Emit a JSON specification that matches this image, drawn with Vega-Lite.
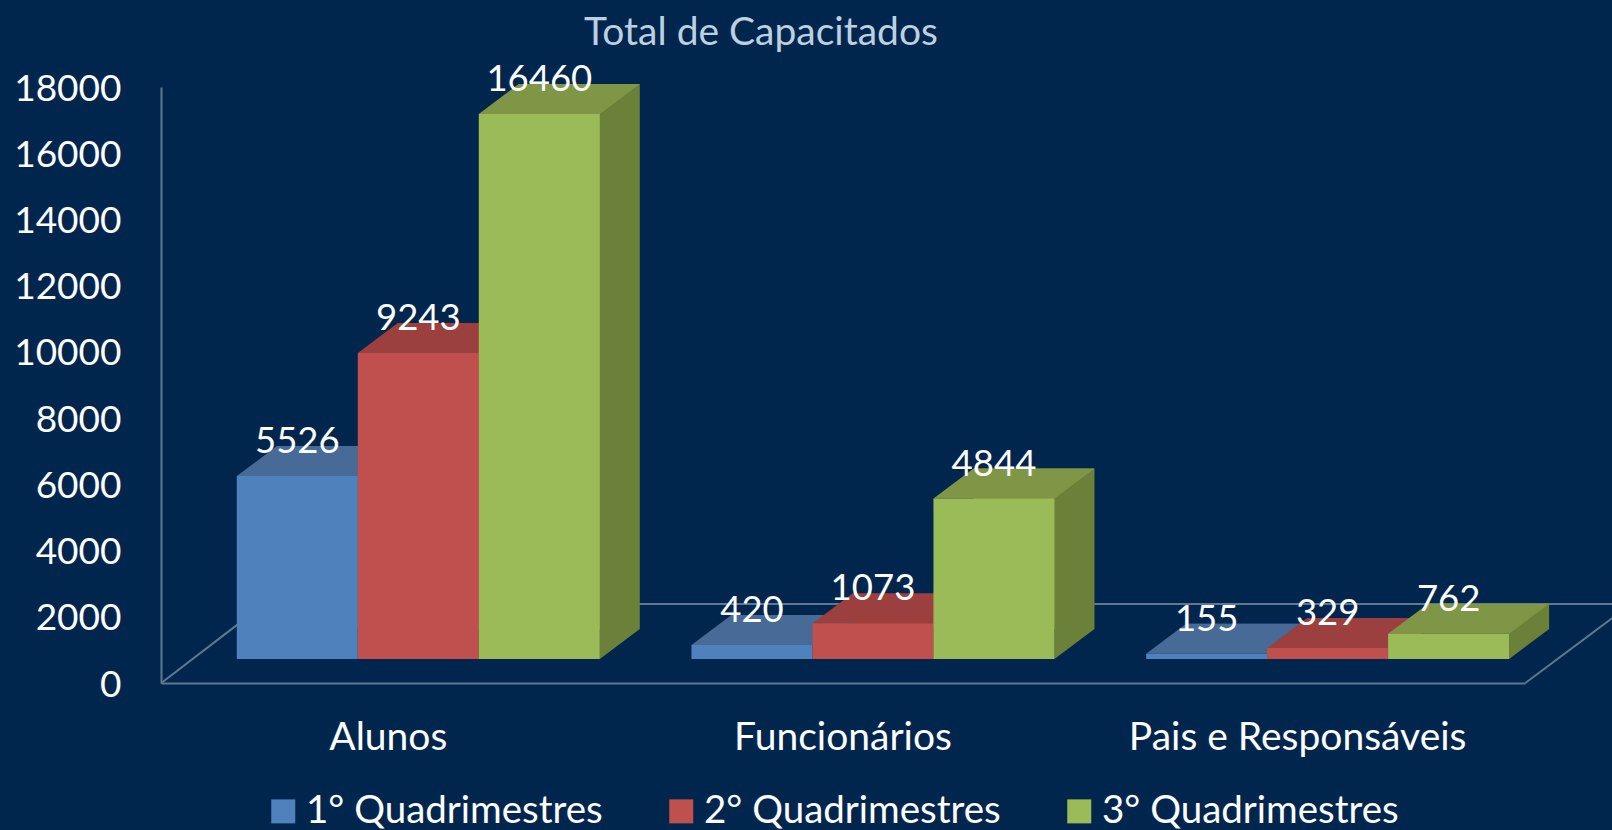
{
"$schema":"https://vega.github.io/schema/vega-lite/v6.json",
"width":1364,"height":596,"autosize":"none",
"padding":{"left":161,"top":87,"right":87,"bottom":147},
"background":"#00264e",
"config":{"view":{"stroke":null},"font":"Lato"},
"title":{"text":"Total de Capacitados","anchor":"middle","frame":"group","dx":-82,"offset":9,"fontSize":39,"fontWeight":"normal","font":"Lato","color":"#bcd0e0"},
"data":{"values":[
{"categoria":"Alunos","serie":"1° Quadrimestres","valor":5526},
{"categoria":"Alunos","serie":"2° Quadrimestres","valor":9243},
{"categoria":"Alunos","serie":"3° Quadrimestres","valor":16460},
{"categoria":"Funcionários","serie":"1° Quadrimestres","valor":420},
{"categoria":"Funcionários","serie":"2° Quadrimestres","valor":1073},
{"categoria":"Funcionários","serie":"3° Quadrimestres","valor":4844},
{"categoria":"Pais e Responsáveis","serie":"1° Quadrimestres","valor":155},
{"categoria":"Pais e Responsáveis","serie":"2° Quadrimestres","valor":329},
{"categoria":"Pais e Responsáveis","serie":"3° Quadrimestres","valor":762}
]},
"encoding":{
"x":{"field":"categoria","type":"nominal","sort":null,"scale":{"paddingInner":0,"paddingOuter":0},
"axis":{"title":null,"labelAngle":0,"labelColor":"#ffffff","labelFontSize":39,"labelFont":"Lato","labelBaseline":"middle","labelPadding":54,"ticks":false,"domainColor":"#5d7892","domainWidth":2,"grid":false,"labelLimit":500}},
"xOffset":{"field":"serie","type":"nominal","sort":null,"scale":{"range":[75.8,438.8]}}
},
"layer":[
{"transform":[{"filter":"datum.valor === 5526"}],
 "mark":{"type":"point","filled":false,"opacity":1,"stroke":"#5d7892","strokeWidth":2,"size":40000,"shape":"M-2.27,0L-1.24,-0.79L12.24,-0.79M11.37,0L12.24,-0.65"},
 "encoding":{"xOffset":{"value":227.3},"y":{"datum":0,"type":"quantitative","scale":{"domain":[0,18000]}}}},
{"mark":{"type":"bar","yOffset":-54},
 "encoding":{"xOffset":{"field":"serie","type":"nominal","sort":null,"scale":{"range":[115.8,478.8]}},
  "y":{"field":"valor","type":"quantitative","stack":null,"scale":{"domain":[0,18000]},
   "axis":{"title":null,"values":[0,2000,4000,6000,8000,10000,12000,14000,16000,18000],"format":"d","labelColor":"#ffffff","labelFontSize":37,"labelFont":"Lato","labelPadding":40,"labelOffset":2,"ticks":false,"grid":false,"domainColor":"#5d7892","domainWidth":2}},
  "y2":{"datum":1631},
  "color":{"field":"serie","type":"nominal","legend":null,"scale":{"range":["#3f6797","#9a403e","#6b8139"]}}}},
{"mark":{"type":"point","filled":true,"opacity":1,"strokeWidth":0,"size":40000,"yOffset":-24,"shape":"M0.605,0L1.005,-0.30L0.605,-0.30Z"},
 "encoding":{"y":{"datum":0,"type":"quantitative","scale":{"domain":[0,18000]}},
  "color":{"field":"serie","type":"nominal","legend":null,"scale":{"range":["#3f6797","#9a403e","#6b8139"]}}}},
{"mark":{"type":"point","filled":true,"opacity":1,"strokeWidth":0,"size":40000,"yOffset":-24,"shape":"M-0.605,0L0.605,0L1.005,-0.30L-0.205,-0.30Z"},
 "encoding":{"y":{"field":"valor","type":"quantitative","stack":null,"scale":{"domain":[0,18000]}},
  "color":{"field":"serie","type":"nominal","legend":null,"scale":{"range":["#486a96","#9b403e","#7f9647"]}}}},
{"mark":{"type":"bar","yOffset":-24},
 "encoding":{"y":{"field":"valor","type":"quantitative","stack":null,"scale":{"domain":[0,18000]}},
  "y2":{"datum":725},
  "color":{"field":"serie","type":"nominal","scale":{"range":["#4f81bd","#c0504d","#9bbb59"]},
   "legend":{"title":null,"orient":"none","legendX":103,"legendY":705,"direction":"horizontal","columns":3,"symbolType":"square","symbolSize":576,"symbolStrokeWidth":0,"labelColor":"#ffffff","labelFontSize":38.5,"labelFont":"Lato","labelOffset":3.5,"columnPadding":59,"labelLimit":400}}}},
{"mark":{"type":"text","color":"#ffffff","fontSize":36.5,"font":"Lato","baseline":"middle","align":"center","yOffset":-58},
 "encoding":{"y":{"field":"valor","type":"quantitative","stack":null,"scale":{"domain":[0,18000]}},"text":{"field":"valor","type":"quantitative","format":"d"}}}
],
"resolve":{"scale":{"color":"independent","xOffset":"independent"}}
}
